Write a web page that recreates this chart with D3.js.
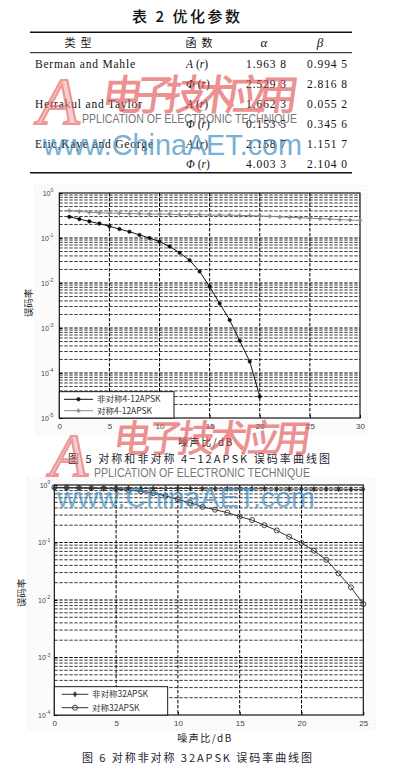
<!DOCTYPE html>
<html><head><meta charset="utf-8">
<script src="https://cdn.jsdelivr.net/npm/d3@7"></script>
<style>body{margin:0;background:#fff}svg{display:block}</style>
</head><body>
<svg id="c" width="405" height="770"></svg>
<script>
// ---------- data ----------
const tableTitle = "表 2 优化参数";
const tableHeader = ["类型", "函数", "α", "β"];
const tableModels = ["Berman and Mahle", "", "Hetrakul and Taylor", "", "Eric,Kaye and George", ""];
const tableFuncs = ["A", "Φ", "A", "Φ", "A", "Φ"];
const tableAlpha = ["1.963 8", "2.529 3", "1.662 3", "0.153 5", "2.158 7", "4.003 3"];
const tableBeta = ["0.994 5", "2.816 8", "0.055 2", "0.345 6", "1.151 7", "2.104 0"];

const fig5AsymSnr = [1, 2, 3, 4, 5, 6, 7, 8, 9, 10, 11, 12, 13, 14, 15, 16, 17, 18, 19, 20];
const fig5Asym = [0.295, 0.263, 0.234, 0.209, 0.182, 0.158, 0.138, 0.117, 0.100, 0.083,
                  0.065, 0.047, 0.032, 0.018, 0.0083, 0.0035, 0.0015, 0.00052, 0.00018, 0.00003];
const fig5SymSnr = [1, 2, 3, 4, 5, 6, 7, 8, 9, 10, 11, 12, 13, 14, 15, 16, 17, 18, 19, 20,
                    21, 22, 23, 24, 25, 26, 27, 28, 29, 30];
const fig5Sym = [0.407, 0.389, 0.372, 0.363, 0.355, 0.355, 0.347, 0.347, 0.339, 0.339,
                 0.339, 0.331, 0.331, 0.331, 0.324, 0.324, 0.324, 0.316, 0.316, 0.309,
                 0.302, 0.295, 0.288, 0.282, 0.275, 0.269, 0.263, 0.257, 0.251, 0.245];
const fig5XTicks = [0, 5, 10, 15, 20, 25, 30];
const fig5YTicks = [1, 1e-1, 1e-2, 1e-3, 1e-4, 1e-5];
const fig5Legend = ["非对称4-12APSK", "对称4-12APSK"];

const fig6Snr = [0, 1, 2, 3, 4, 5, 6, 7, 8, 9, 10, 11, 12, 13, 14, 15, 16, 17, 18, 19, 20, 21, 22, 23, 24, 25];
const fig6Asym = [0.89, 0.89, 0.89, 0.88, 0.88, 0.88, 0.88, 0.87, 0.87, 0.87, 0.87, 0.87, 0.86,
                  0.86, 0.86, 0.86, 0.86, 0.86, 0.85, 0.85, 0.85, 0.85, 0.85, 0.85, 0.84, 0.84];
const fig6Sym = [0.912, 0.902, 0.891, 0.881, 0.871, 0.851, 0.813, 0.776, 0.724, 0.646, 0.562,
                 0.490, 0.417, 0.372, 0.331, 0.282, 0.245, 0.200, 0.162, 0.126, 0.098,
                 0.072, 0.050, 0.029, 0.0166, 0.0085];
const fig6XTicks = [0, 5, 10, 15, 20, 25];
const fig6YTicks = [1, 1e-1, 1e-2, 1e-3, 1e-4];
const fig6Legend = ["非对称32APSK", "对称32APSK"];

const yLabel = "误码率";
const xLabel = "噪声比/dB";
const caption5 = "图 5  对称和非对称 4−12APSK 误码率曲线图";
const caption6 = "图 6  对称非对称 32APSK 误码率曲线图";

// ---------- drawing ----------
const svg = d3.select("#c");
svg.append("rect").attr("width", 405).attr("height", 770).attr("fill", "#fff");
const CJK = "'Noto Sans CJK SC', sans-serif";
const SERIF = "'Liberation Serif', 'DejaVu Serif', serif";
const SANS = "'Liberation Sans', Arial, sans-serif";

// ---- table ----
const tb = svg.append("g");
tb.append("text").attr("x", 132).attr("y", 22).attr("font-family", CJK).attr("font-size", 15)
  .attr("font-weight", 500).attr("fill", "#111").attr("textLength", 108).attr("lengthAdjust", "spacing")
  .text(tableTitle);
tb.append("line").attr("x1", 30).attr("x2", 352).attr("y1", 32.3).attr("y2", 32.3).attr("stroke", "#111").attr("stroke-width", 1.6);
tb.append("line").attr("x1", 30).attr("x2", 352).attr("y1", 52.7).attr("y2", 52.7).attr("stroke", "#111").attr("stroke-width", 1);
tb.append("line").attr("x1", 30).attr("x2", 352).attr("y1", 172.7).attr("y2", 172.7).attr("stroke", "#111").attr("stroke-width", 1.6);
const headX = [78, 199, 264, 320];
tableHeader.forEach((h, i) => {
  const t = tb.append("text").attr("x", headX[i]).attr("y", 47).attr("text-anchor", "middle").attr("fill", "#111");
  if (i < 2) t.attr("font-family", CJK).attr("font-size", 11).attr("letter-spacing", 5).attr("dx", 2.5).text(h);
  else t.attr("font-family", SERIF).attr("font-size", 13).attr("font-style", "italic").text(h);
});
const rowY = [67.5, 87.5, 107.5, 127.5, 148, 168];
const nameW = {"Berman and Mahle": 100, "Hetrakul and Taylor": 107, "Eric,Kaye and George": 118};
tableModels.forEach((m, i) => {
  if (m) tb.append("text").attr("x", 35).attr("y", rowY[i]).attr("font-family", SERIF).attr("font-size", 11.5)
    .attr("fill", "#111").attr("textLength", nameW[m]).attr("lengthAdjust", "spacing").text(m);
  const f = tb.append("text").attr("x", 186).attr("y", rowY[i]).attr("font-family", SERIF).attr("font-size", 11.5).attr("fill", "#111");
  f.append("tspan").attr("font-style", "italic").text(tableFuncs[i]);
  f.append("tspan").text(" (");
  f.append("tspan").attr("font-style", "italic").text("r");
  f.append("tspan").text(")");
  tb.append("text").attr("x", 246).attr("y", rowY[i]).attr("font-family", SERIF).attr("font-size", 11.5)
    .attr("fill", "#111").attr("textLength", 40).attr("lengthAdjust", "spacing").text(tableAlpha[i]);
  tb.append("text").attr("x", 307).attr("y", rowY[i]).attr("font-family", SERIF).attr("font-size", 11.5)
    .attr("fill", "#111").attr("textLength", 40).attr("lengthAdjust", "spacing").text(tableBeta[i]);
});

// ---- chart helper ----
function drawChart(o) {
  const g = svg.append("g");
  g.append("rect").attr("x", o.fx).attr("y", o.fy).attr("width", o.fw).attr("height", o.fh)
    .attr("fill", "#fbfbfb").attr("stroke", "#eeeeee").attr("stroke-dasharray", "2,2");
  const x = d3.scaleLinear().domain([o.xTicks[0], o.xTicks[o.xTicks.length - 1]]).range([o.l, o.r]);
  const y = d3.scaleLog().domain([o.yTicks[o.yTicks.length - 1], o.yTicks[0]]).range([o.b, o.t]);
  g.append("rect").attr("x", o.l).attr("y", o.t).attr("width", o.r - o.l).attr("height", o.b - o.t).attr("fill", "#fff");
  const isDec = v => Math.abs(Math.log10(v) - Math.round(Math.log10(v))) < 1e-6;
  const minor = y.ticks().filter(v => !isDec(v));
  g.append("g").selectAll("line").data(minor).join("line")
    .attr("x1", o.l).attr("x2", o.r).attr("y1", d => y(d)).attr("y2", d => y(d))
    .attr("stroke", "#3a3a3a").attr("stroke-width", 1).attr("stroke-dasharray", "3.4,1.6");
  g.append("g").selectAll("line").data(o.yTicks.slice(1, -1)).join("line")
    .attr("x1", o.l).attr("x2", o.r).attr("y1", d => y(d)).attr("y2", d => y(d))
    .attr("stroke", "#000").attr("stroke-width", 1).attr("stroke-dasharray", "3.4,1.6");
  g.append("g").selectAll("line").data(o.xTicks.slice(1, -1)).join("line")
    .attr("x1", d => x(d)).attr("x2", d => x(d)).attr("y1", o.t).attr("y2", o.b)
    .attr("stroke", "#000").attr("stroke-width", 1).attr("stroke-dasharray", "3.4,1.6");

  const xa = g.append("g").attr("transform", `translate(0,${o.b})`)
    .call(d3.axisBottom(x).tickValues(o.xTicks).tickSize(-3).tickPadding(5).tickFormat(d3.format("d")));
  xa.select(".domain").remove();
  xa.selectAll("line").attr("stroke", "#000");
  xa.selectAll("text").attr("font-family", SANS).attr("font-size", 8).attr("fill", "#444");

  const ya = g.append("g").attr("transform", `translate(${o.l},0)`)
    .call(d3.axisLeft(y).tickValues(o.yTicks).tickSize(-3).tickPadding(o.ypad).tickFormat(""));
  ya.select(".domain").remove();
  ya.selectAll("line").attr("stroke", "#000");
  ya.selectAll(".tick text").attr("font-family", SANS).attr("font-size", 7).attr("fill", "#444")
    .each(function (d) {
      const t = d3.select(this);
      const e = Math.round(Math.log10(d));
      t.append("tspan").text("10");
      t.append("tspan").attr("dy", -3.5).attr("font-size", 5).text(String(e));
    });

  g.append("rect").attr("x", o.l).attr("y", o.t).attr("width", o.r - o.l).attr("height", o.b - o.t)
    .attr("fill", "none").attr("stroke", "#000").attr("stroke-width", 1.1);

  const line = d3.line().x(d => x(d[0])).y(d => y(d[1]));
  o.series.forEach(s => {
    const pts = s.x.map((v, i) => [v, s.y[i]]);
    g.append("path").datum(pts).attr("d", line).attr("fill", "none").attr("stroke", s.color).attr("stroke-width", s.width);
    g.append("g").selectAll("path").data(pts).join("path")
      .attr("transform", d => `translate(${x(d[0])},${y(d[1])})`)
      .attr("d", d3.symbol().type(s.symbol).size(s.size))
      .attr("fill", s.fill).attr("stroke", s.color).attr("stroke-width", s.sw);
  });

  // legend
  const L = o.legend;
  g.append("rect").attr("x", L.x).attr("y", L.y).attr("width", L.w).attr("height", L.h)
    .attr("fill", "#fff").attr("stroke", "#000").attr("stroke-width", 0.9);
  o.series.forEach((s, i) => {
    const yy = L.rows[i];
    g.append("line").attr("x1", L.lx1).attr("x2", L.lx2).attr("y1", yy).attr("y2", yy).attr("stroke", s.color).attr("stroke-width", s.width);
    g.append("path").attr("transform", `translate(${(L.lx1 + L.lx2) / 2},${yy})`)
      .attr("d", d3.symbol().type(s.symbol).size(s.size)).attr("fill", s.fill).attr("stroke", s.color).attr("stroke-width", s.sw);
    g.append("text").attr("x", L.tx).attr("y", yy + 3).attr("font-family", CJK).attr("font-size", L.fs)
      .attr("fill", "#333").text(s.name);
  });

  g.append("text").attr("transform", `translate(${o.ylx},${o.yly}) rotate(-90)`).attr("text-anchor", "middle")
    .attr("font-family", CJK).attr("font-size", 9.5).attr("fill", "#222").text(yLabel);
  g.append("text").attr("x", o.xlx).attr("y", o.xly).attr("text-anchor", "middle")
    .attr("font-family", CJK).attr("font-size", 10).attr("letter-spacing", 1.5).attr("fill", "#222").text(xLabel);
  g.append("text").attr("x", o.cx).attr("y", o.cy).attr("font-family", CJK).attr("font-size", 11)
    .attr("fill", "#1d2330").attr("textLength", o.cw).attr("lengthAdjust", "spacing").text(o.caption);
}

drawChart({
  fx: 35, fy: 185, fw: 332, fh: 249,
  l: 59.3, r: 360, t: 193, b: 418, ypad: 6,
  xTicks: fig5XTicks, yTicks: fig5YTicks,
  series: [
    {name: fig5Legend[0], x: fig5AsymSnr, y: fig5Asym, color: "#111", width: 1, symbol: d3.symbolCircle, size: 10, fill: "#111", sw: 0.5},
    {name: fig5Legend[1], x: fig5SymSnr, y: fig5Sym, color: "#8a8a8a", width: 1, symbol: d3.symbolCross, size: 8, fill: "#8a8a8a", sw: 0.3}
  ],
  legend: {x: 59.3, y: 391.7, w: 114.7, h: 26.3, rows: [399.3, 410.7], lx1: 64, lx2: 93, tx: 97, fs: 8.5},
  ylx: 32, yly: 303, xlx: 206, xly: 446,
  cx: 68, cy: 463, cw: 262, caption: caption5
});

drawChart({
  fx: 28, fy: 478, fw: 347, fh: 252,
  l: 54.3, r: 363.3, t: 485, b: 715, ypad: 4,
  xTicks: fig6XTicks, yTicks: fig6YTicks,
  series: [
    {name: fig6Legend[0], x: fig6Snr, y: fig6Asym, color: "#333", width: 1, symbol: d3.symbolDiamond, size: 9, fill: "#333", sw: 0.5},
    {name: fig6Legend[1], x: fig6Snr, y: fig6Sym, color: "#333", width: 1, symbol: d3.symbolCircle, size: 20, fill: "none", sw: 0.9}
  ],
  legend: {x: 54.3, y: 686.7, w: 113.4, h: 28.3, rows: [694.3, 707.7], lx1: 61.7, lx2: 88.3, tx: 92, fs: 8.5},
  ylx: 25, yly: 593, xlx: 205, xly: 742,
  cx: 82, cy: 762, cw: 230, caption: caption6
});

// ---------- watermarks ----------
function redLogo(ax, ay, as, cx, cy, cw, cs) {
  const g = svg.append("g").attr("opacity", 0.62);
  g.append("text").attr("x", ax).attr("y", ay).attr("font-family", SERIF).attr("font-style", "italic")
    .attr("font-size", as).attr("fill", "#f3b0b0").attr("stroke", "#e25a5a").attr("stroke-width", 2.2).text("A");
  g.append("text").attr("x", cx).attr("y", cy).attr("font-family", CJK).attr("font-weight", 500)
    .attr("font-size", cs).attr("fill", "#e24e4e").attr("textLength", cw).attr("lengthAdjust", "spacing")
    .attr("transform", `skewX(-8)`).attr("dx", cy * 0.14).text("电子技术应用");
}
function appText(x, y, w) {
  svg.append("text").attr("x", x).attr("y", y).attr("font-family", SANS).attr("font-size", 12.5)
    .attr("fill", "#555").attr("opacity", 0.8).attr("textLength", w).attr("lengthAdjust", "spacingAndGlyphs")
    .text("PPLICATION OF ELECTRONIC TECHNIQUE");
}
function aetText(x, y, w, s) {
  svg.append("text").attr("x", x).attr("y", y).attr("font-family", SANS).attr("font-size", s)
    .attr("fill", "#3d8fc4").attr("opacity", 0.7).attr("textLength", w).attr("lengthAdjust", "spacingAndGlyphs")
    .text("www.ChinaAET.com");
}
redLogo(38, 124, 68, 100, 110, 197, 42);
appText(82, 123, 215);
aetText(43, 155, 259, 30);
redLogo(50, 476, 62, 112, 452, 198, 38);
appText(94, 477, 216);
aetText(57, 507, 258, 28);
</script>
</body></html>
